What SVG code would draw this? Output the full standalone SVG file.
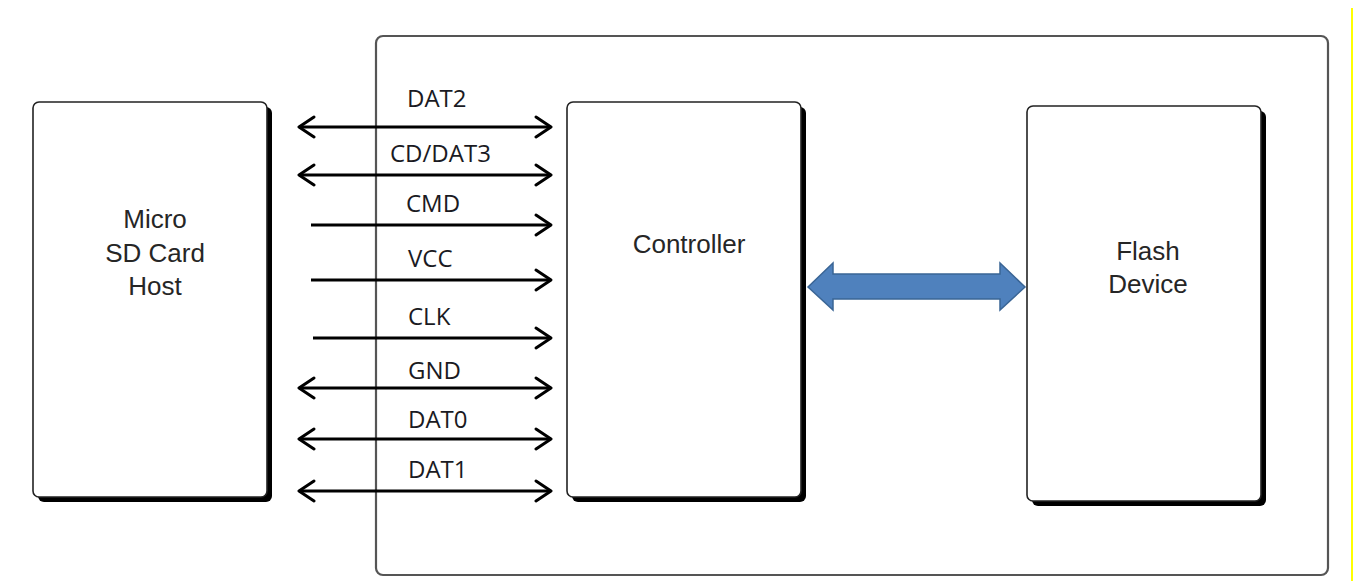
<svg xmlns="http://www.w3.org/2000/svg" width="1353" height="581" viewBox="0 0 1353 581">
<style>
.box{fill:#fff;stroke:#222;stroke-width:1.6}
.shadow{fill:#000}
.big{font-family:"Liberation Sans",Arial,sans-serif;font-size:26px;fill:#262626;text-anchor:middle}
.lbl{font-family:"Open Sans","Liberation Sans",sans-serif;font-size:24px;fill:#1a1a22}
.sig{stroke:#000;stroke-width:3;fill:none}
.head{stroke:#000;stroke-width:3;fill:none;stroke-linecap:round;stroke-linejoin:round}
</style>
<rect width="1353" height="581" fill="#fff"/>
<line x1="1352" y1="8" x2="1352" y2="581" stroke="#ffff00" stroke-width="2"/>
<g id="card">
<rect x="376" y="36" width="952" height="539" rx="7" fill="#fff" stroke="#555" stroke-width="2.2"/>
</g>
<g id="host">
<rect class="shadow" x="38" y="107" width="234" height="395" rx="6"/>
<rect class="box" x="33" y="102" width="234" height="395" rx="6"/>
<text class="big" x="155" y="228">Micro</text>
<text class="big" x="155" y="262">SD Card</text>
<text class="big" x="155" y="295">Host</text>
</g>
<g id="controller">
<rect class="shadow" x="572" y="107" width="234" height="395" rx="6"/>
<rect class="box" x="567" y="102" width="234" height="395" rx="6"/>
<text class="big" x="689" y="253">Controller</text>
</g>
<g id="flash">
<rect class="shadow" x="1032" y="111" width="234" height="395" rx="6"/>
<rect class="box" x="1027" y="106" width="234" height="395" rx="6"/>
<text class="big" x="1148" y="260">Flash</text>
<text class="big" x="1148" y="293">Device</text>
</g>
<g id="connectors">
<g id="bus">
<path d="M808,287 L833,263 L833,274 L1000,274 L1000,263 L1025,287 L1000,310 L1000,299 L833,299 L833,310 Z" fill="#4f81bd" stroke="#3a6595" stroke-width="1.5"/>
</g>
<g id="dat2"><line class="sig" x1="299" y1="127" x2="551" y2="127"/><path class="head" d="M314,117 L299,127 L314,137 M536,117 L551,127 L536,137"/></g>
<g id="cddat3"><line class="sig" x1="299" y1="175" x2="551" y2="175"/><path class="head" d="M314,165 L299,175 L314,185 M536,165 L551,175 L536,185"/></g>
<g id="cmd"><line class="sig" x1="311" y1="225" x2="551" y2="225"/><path class="head" d="M536,215 L551,225 L536,235"/></g>
<g id="vcc"><line class="sig" x1="311" y1="280" x2="551" y2="280"/><path class="head" d="M536,270 L551,280 L536,290"/></g>
<g id="clk"><line class="sig" x1="313" y1="338" x2="551" y2="338"/><path class="head" d="M536,328 L551,338 L536,348"/></g>
<g id="gnd"><line class="sig" x1="299" y1="388" x2="551" y2="388"/><path class="head" d="M314,378 L299,388 L314,398 M536,378 L551,388 L536,398"/></g>
<g id="dat0"><line class="sig" x1="299" y1="439" x2="551" y2="439"/><path class="head" d="M314,429 L299,439 L314,449 M536,429 L551,439 L536,449"/></g>
<g id="dat1"><line class="sig" x1="299" y1="491" x2="551" y2="491"/><path class="head" d="M314,481 L299,491 L314,501 M536,481 L551,491 L536,501"/></g>
<text class="lbl" x="407" y="107">DAT2</text>
<text class="lbl" x="390" y="162">CD/DAT3</text>
<text class="lbl" x="406" y="212">CMD</text>
<text class="lbl" x="408" y="267">VCC</text>
<text class="lbl" x="408" y="325">CLK</text>
<text class="lbl" x="408" y="379">GND</text>
<text class="lbl" x="408" y="428">DAT0</text>
<text class="lbl" x="408" y="478">DAT1</text>
</g>
</svg>
